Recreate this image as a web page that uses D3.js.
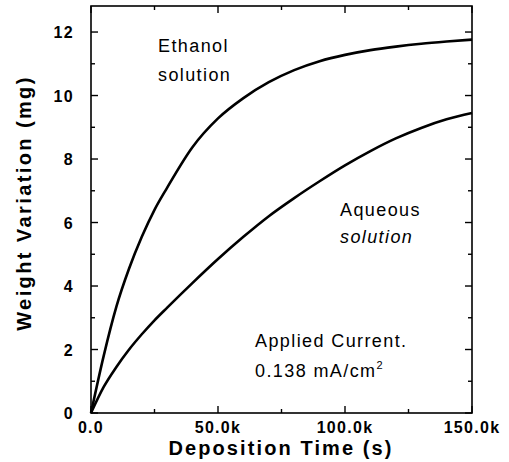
<!DOCTYPE html>
<html>
<head>
<meta charset="utf-8">
<script src="https://cdn.jsdelivr.net/npm/d3@7/dist/d3.min.js"></script>
<style>
  html, body { margin: 0; padding: 0; background: #fff; }
  svg { display: block; font-family: "Liberation Sans", Arial, Helvetica, sans-serif; }
</style>
</head>
<body>
<svg id="chart" width="509" height="462"></svg>
<script>
// ---- data ----
const timeK = [0, 5, 10, 15, 20, 25, 30, 40, 50, 60, 70, 80, 90, 100, 110, 120, 130, 140, 150];
const ethanol = [0, 1.8, 3.35, 4.55, 5.55, 6.4, 7.1, 8.38, 9.28, 9.92, 10.42, 10.8, 11.08, 11.28, 11.43, 11.54, 11.63, 11.7, 11.76];
const aqueous = [0, 0.82, 1.45, 2.0, 2.48, 2.92, 3.32, 4.1, 4.85, 5.55, 6.2, 6.77, 7.3, 7.8, 8.25, 8.65, 8.98, 9.25, 9.45];
const xTickValues = [0, 50, 100, 150];
const xTickLabels = ["0.0", "50.0k", "100.0k", "150.0k"];
const xMinorTicks = [25, 75, 125];
const yTickValues = [0, 2, 4, 6, 8, 10, 12];
const yMinorTicks = [1, 3, 5, 7, 9, 11];

const svg = d3.select("#chart");
const L = 91, R = 472, T = 6, B = 413;

const x = d3.scaleLinear().domain([0, 150]).range([L, R]);
const y = d3.scaleLinear().domain([0, 12.82]).range([B, T]);

// frame
svg.append("rect")
  .attr("x", L).attr("y", T).attr("width", R - L).attr("height", B - T)
  .attr("fill", "none").attr("stroke", "#000").attr("stroke-width", 1.6);

// ticks (inward) on all four sides
const tickG = svg.append("g").attr("stroke", "#000").attr("stroke-width", 1.4);
function ticks(vals, len) {
  vals.forEach(v => {
    tickG.append("line").attr("x1", x(v)).attr("x2", x(v)).attr("y1", B).attr("y2", B - len);
    tickG.append("line").attr("x1", x(v)).attr("x2", x(v)).attr("y1", T).attr("y2", T + len);
  });
}
function yticks(vals, len) {
  vals.forEach(v => {
    tickG.append("line").attr("y1", y(v)).attr("y2", y(v)).attr("x1", L).attr("x2", L + len);
    tickG.append("line").attr("y1", y(v)).attr("y2", y(v)).attr("x1", R).attr("x2", R - len);
  });
}
ticks(xTickValues, 7);
ticks(xMinorTicks, 4);
yticks(yTickValues, 7);
yticks(yMinorTicks, 4);

// tick labels
const tickFont = { size: 16, spacing: 1.3 };
svg.append("g").selectAll("text").data(xTickValues).join("text")
  .attr("x", d => x(d)).attr("y", 433)
  .attr("text-anchor", "middle")
  .attr("font-size", tickFont.size).attr("font-weight", "bold")
  .attr("letter-spacing", tickFont.spacing)
  .text((d, i) => xTickLabels[i]);

svg.append("g").selectAll("text").data(yTickValues).join("text")
  .attr("x", 74).attr("y", d => y(d) + 6)
  .attr("text-anchor", "end")
  .attr("font-size", tickFont.size).attr("font-weight", "bold")
  .attr("letter-spacing", tickFont.spacing)
  .text(d => d);

// axis titles
svg.append("text")
  .attr("x", 281).attr("y", 455)
  .attr("text-anchor", "middle")
  .attr("font-size", 20).attr("font-weight", "bold").attr("letter-spacing", 2.1)
  .text("Deposition Time (s)");

svg.append("text")
  .attr("transform", "translate(31,203) rotate(-90)")
  .attr("text-anchor", "middle")
  .attr("font-size", 20).attr("font-weight", "bold").attr("letter-spacing", 2.4)
  .text("Weight Variation (mg)");

// curves
const line = d3.line().x((d, i) => x(timeK[i])).y(d => y(d)).curve(d3.curveMonotoneX);
[ethanol, aqueous].forEach(series => {
  svg.append("path").datum(series)
    .attr("d", line)
    .attr("fill", "none").attr("stroke", "#000").attr("stroke-width", 2.6);
});

// annotations
const ann = svg.append("g").attr("font-size", 18).attr("letter-spacing", 1.4).attr("fill", "#000");
ann.append("text").attr("x", 158).attr("y", 52).text("Ethanol");
ann.append("text").attr("x", 158).attr("y", 81).text("solution");
ann.append("text").attr("x", 340).attr("y", 216).text("Aqueous");
ann.append("text").attr("x", 340).attr("y", 243).attr("font-style", "italic").text("solution");
ann.append("text").attr("x", 255).attr("y", 347).text("Applied Current.");
const t2 = ann.append("text").attr("x", 255).attr("y", 377);
t2.append("tspan").text("0.138 mA/cm");
t2.append("tspan").attr("dy", -8).attr("font-size", 11).text("2");
</script>
</body>
</html>
